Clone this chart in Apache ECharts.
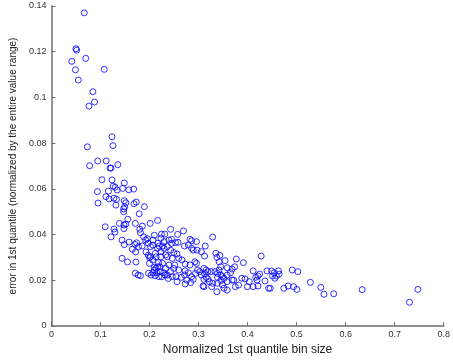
<!DOCTYPE html>
<html>
<head>
<meta charset="utf-8">
<script src="https://cdn.jsdelivr.net/npm/echarts@6/dist/echarts.min.js"></script>
<style>
  html, body { margin: 0; padding: 0; background: #fff; }
  #chart { width: 453px; height: 364px; }
</style>
</head>
<body>
<div id="chart"></div>
<script>
// Bin size (x) against first-quantile error (y), both normalized.
const binSize = [
  0.067, 0.050, 0.0515, 0.070, 0.0416, 0.049, 0.1077, 0.0549, 0.0846, 0.0879, 0.0766,
  0.0733, 0.1235, 0.1255, 0.078, 0.0945, 0.1117, 0.1196, 0.1216, 0.1354, 0.103, 0.1235, 0.126, 0.1485,
  0.0938, 0.1162, 0.130, 0.134, 0.1453, 0.1578, 0.1677, 0.095, 0.111, 0.1176, 0.1275, 0.1327, 0.1314,
  0.1485, 0.1519, 0.1683, 0.173, 0.1473, 0.1493, 0.1895, 0.1473,
  0.179, 0.2166, 0.1097, 0.1387, 0.1558, 0.1711, 0.148, 0.1519, 0.1855, 0.1275, 0.1295, 0.1479,
  0.1802, 0.1816, 0.2014, 0.2245, 0.2311, 0.243, 0.2574, 0.2693, 0.2099,
  0.1216, 0.144, 0.1485, 0.1584, 0.165, 0.1703, 0.1737, 0.1717, 0.1776, 0.185, 0.1921, 0.1881,
  0.2073, 0.1974, 0.202, 0.1929, 0.1974, 0.202, 0.2119, 0.2166, 0.2198, 0.2265, 0.2232, 0.2172,
  0.1954, 0.2232, 0.2298, 0.2066, 0.2298, 0.2331, 0.2232, 0.2396, 0.245, 0.2449, 0.2529, 0.2582,
  0.2826, 0.2859, 0.2958, 0.2792, 0.3137, 0.2713, 0.2859, 0.297, 0.3057, 0.3123, 0.3354, 0.3434,
  0.3374, 0.3287, 0.2364, 0.243, 0.2496, 0.2562, 0.2892, 0.2364, 0.2463, 0.2595, 0.377, 0.4277,
  0.342, 0.354,
  0.144, 0.1552, 0.1723, 0.1711, 0.177, 0.1816, 0.2, 0.2186, 0.2, 0.2133, 0.2066, 0.2166, 0.2265,
  0.2099, 0.2212, 0.198, 0.2034, 0.2067, 0.2113, 0.2147, 0.2192, 0.2218, 0.2251, 0.2291, 0.2331,
  0.2133, 0.2318, 0.2384, 0.2364, 0.2397, 0.2099,
  0.2661, 0.2727, 0.2826, 0.2925, 0.2958, 0.2516, 0.2595, 0.2727, 0.2793, 0.2978, 0.3024, 0.311,
  0.3156, 0.3255, 0.3334, 0.3387, 0.3486, 0.3585, 0.3651, 0.3684, 0.3585, 0.3453, 0.2463, 0.2859,
  0.3156, 0.243, 0.2496, 0.2542, 0.2648, 0.2714, 0.2938, 0.3057, 0.3123, 0.3189, 0.3387, 0.342, 0.3453,
  0.2562, 0.2760, 0.2727, 0.3090, 0.3222, 0.3288, 0.3387, 0.3453, 0.3486, 0.3585, 0.3684, 0.3519,
  0.284, 0.2892, 0.311, 0.3189, 0.3519, 0.311, 0.3268, 0.3374, 0.3584,
  0.3737, 0.3915, 0.4113, 0.4212, 0.4245, 0.4192, 0.4166, 0.4396, 0.4489, 0.4543, 0.4628, 0.4642,
  0.4588, 0.4555, 0.451, 0.4911, 0.5024, 0.3881, 0.3948, 0.4034, 0.3816, 0.3994, 0.4113, 0.4212,
  0.4356, 0.443, 0.4463, 0.474, 0.4826, 0.4938, 0.5004, 0.3717, 0.375, 0.5281, 0.5493, 0.5558,
  0.5756, 0.6337, 0.7301, 0.7473
];
const quantileError = [
  0.137, 0.1213, 0.1207, 0.1171, 0.1158, 0.1121, 0.1123, 0.1076, 0.1025, 0.098, 0.0962,
  0.0784, 0.0828, 0.0789, 0.0701, 0.0722, 0.0722, 0.0691, 0.0691, 0.0706, 0.064, 0.0639, 0.0612, 0.0626,
  0.0588, 0.059, 0.0607, 0.0595, 0.0602, 0.0596, 0.0599, 0.0538, 0.0566, 0.0556, 0.0559, 0.0554, 0.0529,
  0.0548, 0.0539, 0.0535, 0.0542, 0.0512, 0.0521, 0.0522, 0.050,
  0.0491, 0.0462, 0.0434, 0.0449, 0.0467, 0.0449, 0.0442, 0.0446, 0.0437, 0.0424, 0.0411, 0.0426,
  0.0423, 0.0408, 0.0449, 0.0402, 0.0402, 0.0423, 0.0401, 0.0416, 0.0397,
  0.039, 0.0376, 0.0356, 0.0367, 0.0336, 0.0357, 0.0364, 0.0324, 0.0347, 0.035, 0.0376, 0.039,
  0.0376, 0.0362, 0.0347, 0.0324, 0.031, 0.0303, 0.0318, 0.034, 0.035, 0.035, 0.0325, 0.0362,
  0.0382, 0.0384, 0.0369, 0.0354, 0.034, 0.0311, 0.0303, 0.0376, 0.0379, 0.0362, 0.0365, 0.0366,
  0.0379, 0.0373, 0.0369, 0.0354, 0.035, 0.035, 0.034, 0.0332, 0.0325, 0.0306, 0.0318, 0.0309,
  0.030, 0.0389, 0.0347, 0.0332, 0.0321, 0.0315, 0.0332, 0.0303, 0.0296, 0.0296, 0.0293, 0.0306,
  0.0281, 0.0286,
  0.0296, 0.028, 0.028, 0.0231, 0.0223, 0.022, 0.0274, 0.0277, 0.0299, 0.0303, 0.0289, 0.0259, 0.0274,
  0.0257, 0.0259, 0.0231, 0.0223, 0.0233, 0.022, 0.0233, 0.0216, 0.0238, 0.0216, 0.0233, 0.0252,
  0.0252, 0.0223, 0.0208, 0.0223, 0.0267, 0.0245,
  0.0289, 0.0271, 0.0267, 0.0281, 0.0274, 0.0267, 0.0245, 0.0241, 0.0233, 0.0245, 0.0238, 0.0252,
  0.0245, 0.0238, 0.0238, 0.0213, 0.0216, 0.0223, 0.0233, 0.0249, 0.0255, 0.0259, 0.0216, 0.0216,
  0.0213, 0.0238, 0.0252, 0.0216, 0.0213, 0.0223, 0.023, 0.0223, 0.023, 0.0238, 0.023, 0.0245, 0.0223,
  0.0194, 0.0201, 0.0184, 0.0175, 0.0194, 0.0187, 0.0187, 0.0199, 0.0180, 0.0194, 0.0201, 0.0165,
  0.0190, 0.0204, 0.0204, 0.0206, 0.0208, 0.0172, 0.0172, 0.015, 0.0157,
  0.0259, 0.0277, 0.0241, 0.0219, 0.0227, 0.0201, 0.0213, 0.0241, 0.0241, 0.0233, 0.0241, 0.0227,
  0.0219, 0.0209, 0.0219, 0.0245, 0.0238, 0.0209, 0.0206, 0.0194, 0.0179, 0.0172, 0.0172, 0.0175,
  0.0197, 0.0165, 0.0165, 0.0165, 0.0175, 0.0172, 0.016, 0.0201, 0.0172, 0.0191, 0.0169, 0.0139,
  0.0141, 0.0159, 0.0104, 0.016
];

const xTitle = 'Normalized 1st quantile bin size';
const yTitle = 'error in 1st quantile (normalized by the entire value range)';

const points = binSize.map((x, i) => [x, quantileError[i]]);

const axisColor = '#6f6f6f';
const labelFont = { fontFamily: 'Liberation Sans, Arial, sans-serif', fontSize: 9, color: '#333' };

const chart = echarts.init(document.getElementById('chart'), null, { renderer: 'canvas' });
chart.setOption({
  animation: false,
  backgroundColor: '#fff',
  grid: { left: 42, right: 7, top: 6, bottom: 38, containLabel: false },
  xAxis: {
    type: 'value', min: 0, max: 0.8, interval: 0.1,
    name: xTitle, nameLocation: 'middle', nameGap: 18,
    nameTextStyle: { fontFamily: 'Liberation Sans, Arial, sans-serif', fontSize: 12, color: '#222' },
    axisLine: { show: true, onZero: false, lineStyle: { color: axisColor, width: 1.5 } },
    axisTick: { show: true, inside: true, length: 4, lineStyle: { color: axisColor } },
    axisLabel: Object.assign({ margin: 4, showMinLabel: true, showMaxLabel: true }, labelFont),
    splitLine: { show: false }
  },
  yAxis: {
    type: 'value', min: 0, max: 0.14, interval: 0.02,
    name: yTitle, nameLocation: 'middle', nameGap: 25,
    nameTextStyle: { fontFamily: 'Liberation Sans, Arial, sans-serif', fontSize: 10, color: '#222' },
    axisLine: { show: true, onZero: false, lineStyle: { color: axisColor, width: 1.5 } },
    axisTick: { show: true, inside: true, length: 4, lineStyle: { color: axisColor } },
    axisLabel: Object.assign({ margin: 5, showMinLabel: true, showMaxLabel: true }, labelFont),
    splitLine: { show: false }
  },
  series: [{
    type: 'scatter',
    data: points,
    symbol: 'circle',
    symbolSize: 6,
    itemStyle: { color: 'rgba(0,0,0,0)', borderColor: '#0000ff', borderWidth: 1 }
  }]
});
</script>
</body>
</html>
